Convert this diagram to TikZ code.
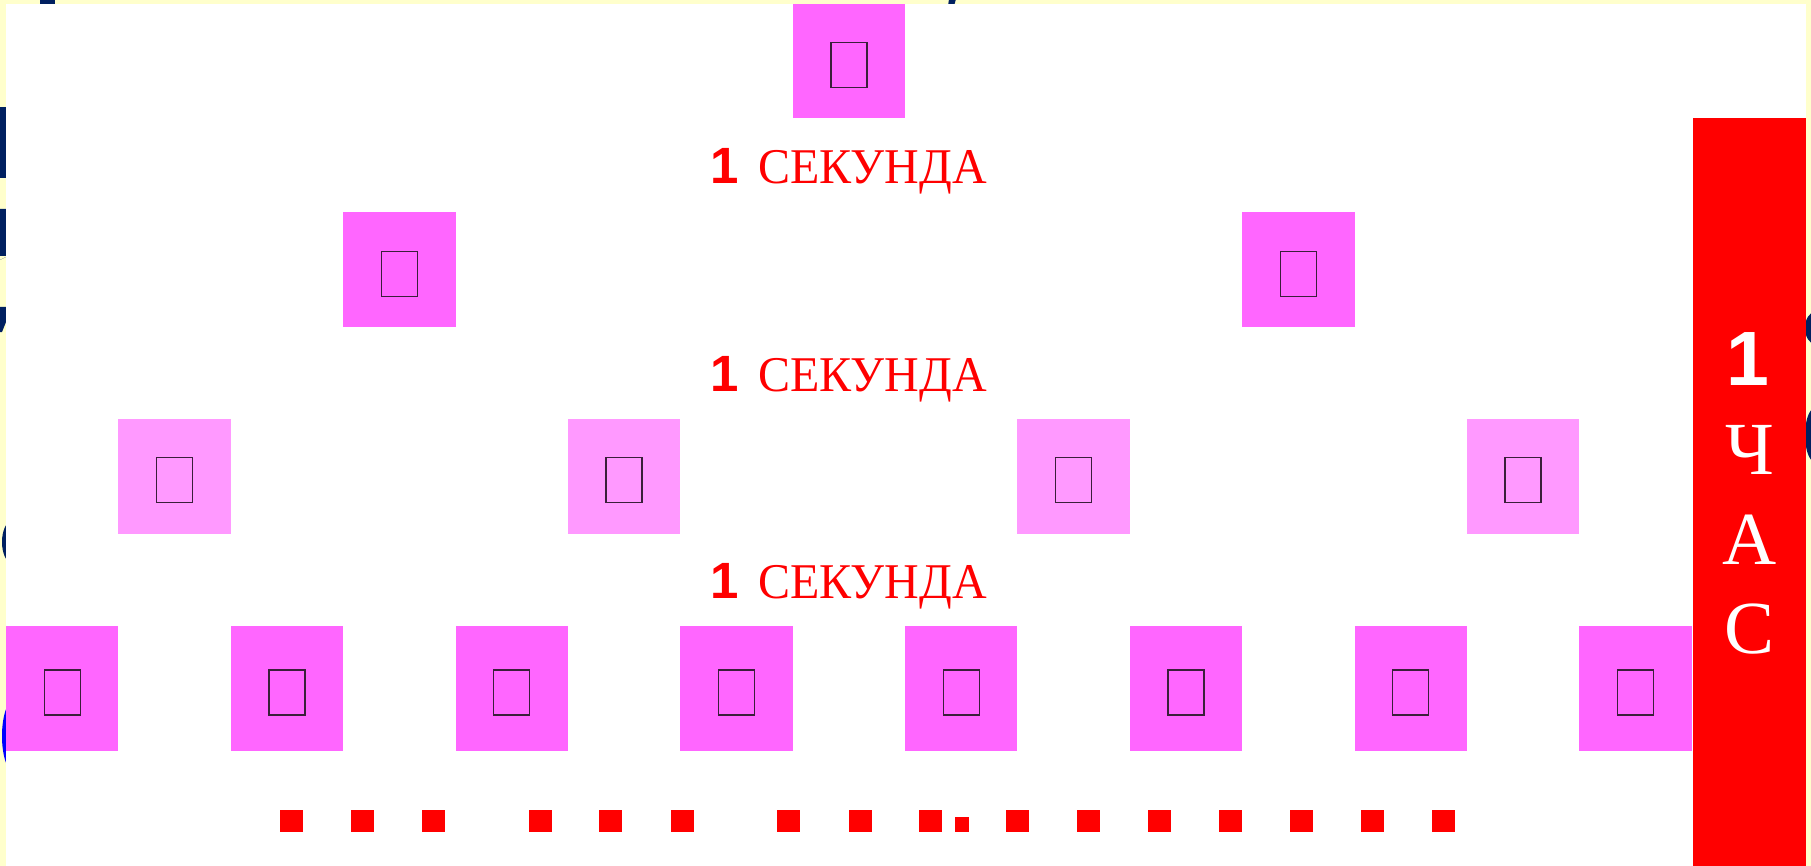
\documentclass[tikz,border=0pt]{standalone}
\usepackage{fontspec}
\setmainfont{Liberation Serif}
\newfontfamily\numfont{Liberation Sans}
\newfontfamily\narrowserif[FakeStretch=0.96]{Liberation Serif}
\usetikzlibrary{calc}
\definecolor{pinkA}{HTML}{FF66FF}
\definecolor{pinkB}{HTML}{FF99FF}
\definecolor{bgy}{HTML}{FFFFCC}
\definecolor{navy}{HTML}{002060}
\definecolor{boxline}{HTML}{3A1F3A}
\newcommand\fsz[1]{\fontsize{#1}{#1}\selectfont}
\begin{document}
\begin{tikzpicture}[x=1pt,y=-1pt,
  sq/.style={rectangle,inner sep=0pt,outer sep=0pt,minimum width=112.4pt,
    minimum height=114.5pt,fill=pinkA,anchor=north west},
  sqlight/.style={sq,fill=pinkB},
  gbox/.style={rectangle,inner sep=0pt,draw=boxline,line width=1.4pt,
    minimum width=36pt,minimum height=45pt},
  dotsq/.style={rectangle,inner sep=0pt,outer sep=0pt,fill=red,
    minimum width=23pt,minimum height=22pt,anchor=north west},
  numlbl/.style={text=red,inner sep=0pt,anchor=base,font=\fsz{51}\numfont\bfseries},
  lbl/.style={text=red,inner sep=0pt,anchor=base,font=\fsz{50}\narrowserif},
  barlbl/.style={text=white,inner sep=0pt,anchor=base}]
\useasboundingbox (0,0) rectangle (1811,866);
% background and text fragments peeking out
\fill[bgy] (0,0) rectangle (1811,866);
\fill[navy] (40,-1) rectangle (55,4);
\fill[navy] (949,-1) -- (956,-1) -- (954,6) -- (948,6) -- cycle;
\fill[navy] (-1,107) rectangle (8,178);
\fill[navy] (-1,209) rectangle (8,256) -- (8,256) -- (0,260) -- cycle;
\fill[navy] (-1,307) -- (10,307) -- (10,312) -- (2,332) -- (-1,332) -- cycle;
\fill[navy] (12,542) ellipse [x radius=10, y radius=21];
\fill[blue] (14,736) ellipse [x radius=12, y radius=36];
\fill[navy] (1815,328) ellipse [x radius=10, y radius=16];
\fill[navy] (1815,435) ellipse [x radius=10, y radius=27];
% white panel
\fill[white] (6,4) rectangle (1806,866);
% row 1
\node[sq,minimum height=114pt] (a7) at ({6+112.375*7},4) {};
\node[gbox] (ag7) at ($(a7.center)+(0,4)$) {};
% row 2
\foreach \k in {3,11}{
  \node[sq] (b\k) at ({6+112.375*\k},212.5) {};
  \node[gbox] (bg\k) at ($(b\k.center)+(0,4)$) {};
}
% row 3
\foreach \k in {1,5,9,13}{
  \node[sqlight] (c\k) at ({6+112.375*\k},419) {};
  \node[gbox] (cg\k) at ($(c\k.center)+(0,4)$) {};
}
% row 4
\foreach \k in {0,2,...,14}{
  \node[sq,minimum height=125pt] (d\k) at ({6+112.375*\k},626) {};
  \node[gbox] (dg\k) at ($(d\k.center)+(0,4)$) {};
}
% labels
\foreach \y [count=\j] in {183.3,391,598.5}{
  \node[numlbl] (n\j) at (725,\y) {1};
  \node[lbl] (t\j) at (872.5,\y) {СЕКУНДА};
}
% red bar
\node[rectangle,inner sep=0pt,outer sep=0pt,fill=red,anchor=north west,
  minimum width=113.5pt,minimum height=748pt] (bar) at (1692.5,118) {};
\node[barlbl,font=\fsz{77}\numfont\bfseries] (h1) at (1748,385) {1};
\node[barlbl,font=\fsz{75}] (h2) at (1749.5,474) {Ч};
\node[barlbl,font=\fsz{75}] (h3) at (1749.5,564) {А};
\node[barlbl,font=\fsz{75}] (h4) at (1749.5,653) {С};
% dots
\foreach \x [count=\i] in {279.5,351,421.6,529,599.4,671,777,849,919,1006,1076.5,1148,1218.5,1290,1360.6,1432}{
  \node[dotsq] (p\i) at (\x,810) {};
}
\node[dotsq,minimum width=14pt,minimum height=15pt] (psmall) at (955,817) {};
\end{tikzpicture}
\end{document}
